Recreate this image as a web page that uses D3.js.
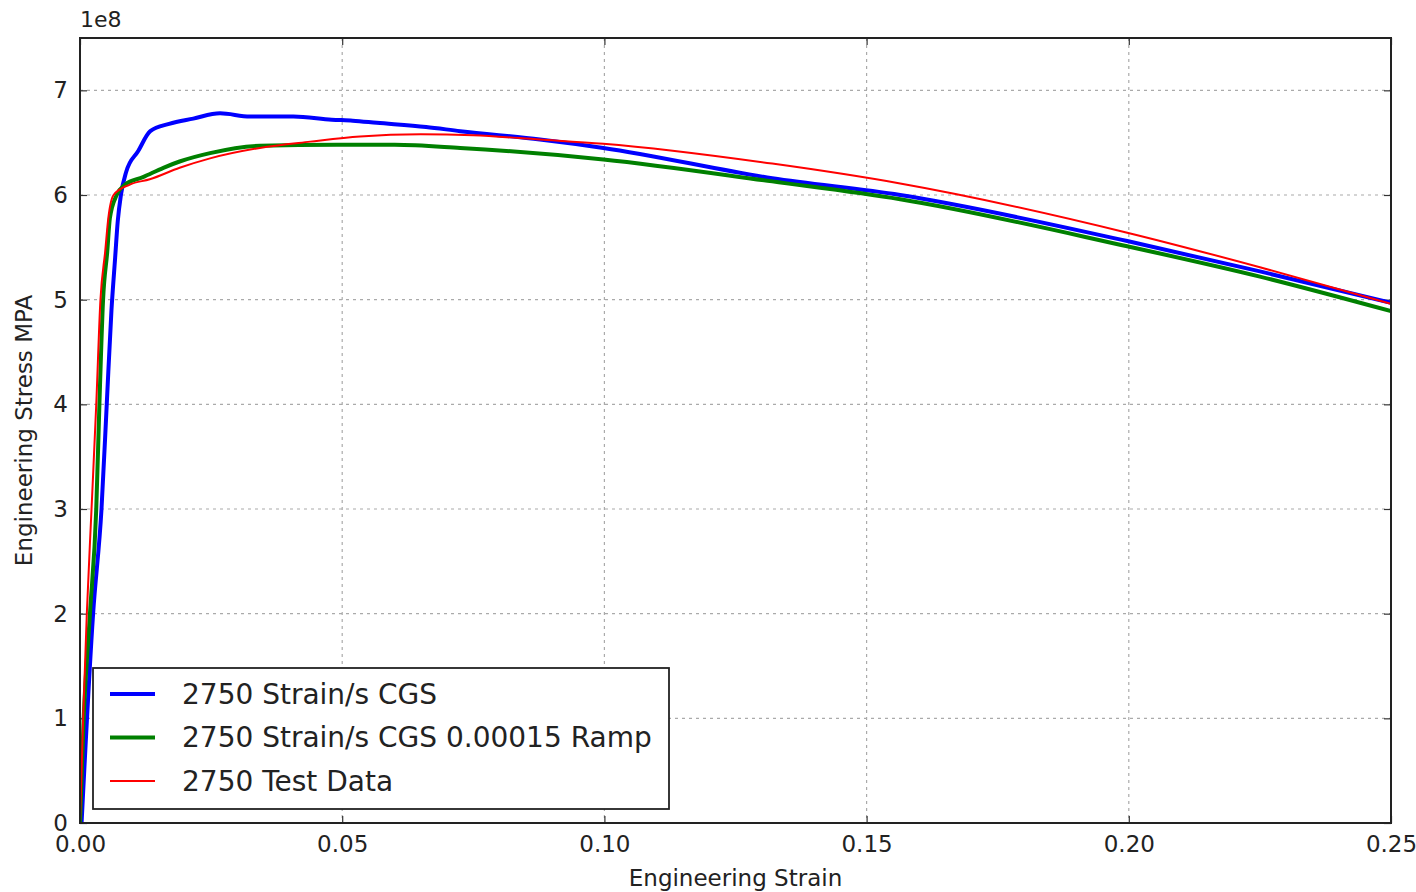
<!DOCTYPE html>
<html>
<head>
<meta charset="utf-8">
<script src="https://cdn.jsdelivr.net/npm/d3@7"></script>
<style>
  body { margin: 0; background: #fff; }
  text { font-family: "DejaVu Sans", sans-serif; fill: #222; }
</style>
</head>
<body>
<div id="chart"></div>
<script>
// strain / stress (x1e8) readings for each run
var blueStrain = [0.0003, 0.0025, 0.0041, 0.0051, 0.0060, 0.0067, 0.0072, 0.0078, 0.0088, 0.0111, 0.0134, 0.0170, 0.0216, 0.0267, 0.0324, 0.0407, 0.0480, 0.0520, 0.0566, 0.0660, 0.0725, 0.0877, 0.0998, 0.1320, 0.1564, 0.1997, 0.2250, 0.2500];
var blueStress = [0, 2.0, 3.0, 4.0, 4.9, 5.4, 5.75, 6.0, 6.22, 6.42, 6.61, 6.68, 6.73, 6.78, 6.75, 6.75, 6.72, 6.71, 6.69, 6.65, 6.61, 6.53, 6.45, 6.16, 6.0, 5.56, 5.27, 4.97];

var greenStrain = [0, 0.0007, 0.0019, 0.0031, 0.0037, 0.0044, 0.0052, 0.0057, 0.0070, 0.0086, 0.0120, 0.0159, 0.0190, 0.0248, 0.0343, 0.0490, 0.0600, 0.0725, 0.0998, 0.1320, 0.1564, 0.1997, 0.2250, 0.2500];
var greenStress = [0, 1.0, 2.0, 3.0, 4.0, 5.0, 5.46, 5.78, 6.0, 6.1, 6.17, 6.26, 6.32, 6.40, 6.47, 6.48, 6.48, 6.45, 6.34, 6.13, 5.96, 5.51, 5.22, 4.89];

var redStrain = [0, 0.0006, 0.0013, 0.0022, 0.0031, 0.0039, 0.0048, 0.0054, 0.0064, 0.0095, 0.0133, 0.0190, 0.0248, 0.0343, 0.0439, 0.0534, 0.0650, 0.0750, 0.0877, 0.0998, 0.1320, 0.1564, 0.1997, 0.2250, 0.2500];
var redStress = [0, 1.0, 2.0, 3.0, 4.0, 5.0, 5.46, 5.78, 6.0, 6.1, 6.15, 6.26, 6.35, 6.45, 6.51, 6.56, 6.58, 6.57, 6.53, 6.49, 6.30, 6.11, 5.64, 5.31, 4.96];

var seriesNames = ["2750 Strain/s CGS", "2750 Strain/s CGS 0.00015 Ramp", "2750 Test Data"];
var xTicks = [0, 0.05, 0.10, 0.15, 0.20, 0.25];
var yTicks = [0, 1, 2, 3, 4, 5, 6, 7];

var margin = {top: 38, right: 25, bottom: 69, left: 80},
    width = 1311,
    height = 785;

var svg = d3.select("#chart")
    .append("svg")
        .attr("width", 1416)
        .attr("height", 892);

var chart = svg.append("g")
    .attr("transform", "translate(" + margin.left + "," + margin.top + ")");

var x = d3.scaleLinear()
    .domain([0, 0.25])
    .range([0, width]);

var y = d3.scaleLinear()
    .domain([0, 7.5])
    .range([height, 0]);

// dashed grid
chart.append("g")
    .selectAll("line")
    .data(xTicks.slice(1, -1))
    .enter()
    .append("line")
        .attr("x1", function(d) { return x(d); })
        .attr("x2", function(d) { return x(d); })
        .attr("y1", 0)
        .attr("y2", height)
        .attr("stroke", "#aaa")
        .attr("stroke-width", 1.2)
        .attr("stroke-dasharray", "3,4");

chart.append("g")
    .selectAll("line")
    .data(yTicks.slice(1))
    .enter()
    .append("line")
        .attr("x1", 0)
        .attr("x2", width)
        .attr("y1", function(d) { return y(d); })
        .attr("y2", function(d) { return y(d); })
        .attr("stroke", "#aaa")
        .attr("stroke-width", 1.2)
        .attr("stroke-dasharray", "3,4");

// axes with inward ticks on every side
var xAxis = chart.append("g")
    .attr("transform", "translate(0," + height + ")")
    .call(d3.axisBottom(x).tickValues(xTicks).tickFormat(d3.format(".2f")).tickSizeInner(-7).tickSizeOuter(0).tickPadding(13));

var yAxis = chart.append("g")
    .call(d3.axisLeft(y).tickValues(yTicks).tickFormat(d3.format("d")).tickSizeInner(-7).tickSizeOuter(0).tickPadding(12));

chart.append("g")
    .call(d3.axisTop(x).tickValues(xTicks).tickFormat("").tickSizeInner(-7).tickSizeOuter(0));

chart.append("g")
    .attr("transform", "translate(" + width + ",0)")
    .call(d3.axisRight(y).tickValues(yTicks).tickFormat("").tickSizeInner(-7).tickSizeOuter(0));

chart.selectAll(".domain").attr("stroke", "none");
chart.selectAll(".tick line").attr("stroke", "#333").attr("stroke-width", 1.2);
xAxis.selectAll("text").style("font-size", "23px").attr("fill", "#222");
yAxis.selectAll("text").style("font-size", "23px").attr("fill", "#222");

chart.append("defs")
    .append("clipPath")
        .attr("id", "plot-clip")
    .append("rect")
        .attr("width", width)
        .attr("height", height);

var line = d3.line()
    .x(function(d) { return x(d[0]); })
    .y(function(d) { return y(d[1]); })
    .curve(d3.curveMonotoneX);

var series = [
    {name: seriesNames[0], pts: d3.zip(blueStrain, blueStress), color: "#0000ff", w: 4},
    {name: seriesNames[1], pts: d3.zip(greenStrain, greenStress), color: "#008000", w: 4},
    {name: seriesNames[2], pts: d3.zip(redStrain, redStress), color: "#ff0000", w: 2}
];

chart.append("g")
    .attr("clip-path", "url(#plot-clip)")
    .selectAll("path")
    .data(series)
    .enter()
    .append("path")
        .attr("d", function(d) { return line(d.pts); })
        .attr("fill", "none")
        .attr("stroke", function(d) { return d.color; })
        .attr("stroke-width", function(d) { return d.w; })
        .attr("stroke-linejoin", "round");

// frame
chart.append("rect")
    .attr("width", width)
    .attr("height", height)
    .attr("fill", "none")
    .attr("stroke", "#222")
    .attr("stroke-width", 2);

// legend
var legend = chart.append("g")
    .attr("transform", "translate(13," + (height - 155) + ")");

legend.append("rect")
    .attr("width", 576)
    .attr("height", 141)
    .attr("fill", "#fff")
    .attr("stroke", "#222")
    .attr("stroke-width", 1.8);

var rows = legend.selectAll(".row")
    .data(series)
    .enter()
    .append("g")
        .attr("class", "row")
        .attr("transform", function(d, i) { return "translate(0," + (26 + i * 43.5) + ")"; });

rows.append("line")
    .attr("x1", 17)
    .attr("x2", 62)
    .attr("stroke", function(d) { return d.color; })
    .attr("stroke-width", function(d) { return d.w; });

rows.append("text")
    .attr("x", 89)
    .attr("dy", "0.35em")
    .style("font-size", "28px")
    .text(function(d) { return d.name; });

// labels
chart.append("text")
    .attr("x", width / 2)
    .attr("y", height + 63)
    .attr("text-anchor", "middle")
    .style("font-size", "23px")
    .text("Engineering Strain");

chart.append("text")
    .attr("transform", "rotate(-90)")
    .attr("x", -height / 2)
    .attr("y", -48)
    .attr("text-anchor", "middle")
    .style("font-size", "23px")
    .text("Engineering Stress MPA");

chart.append("text")
    .attr("x", 0)
    .attr("y", -11)
    .style("font-size", "22px")
    .text("1e8");
</script>
</body>
</html>
